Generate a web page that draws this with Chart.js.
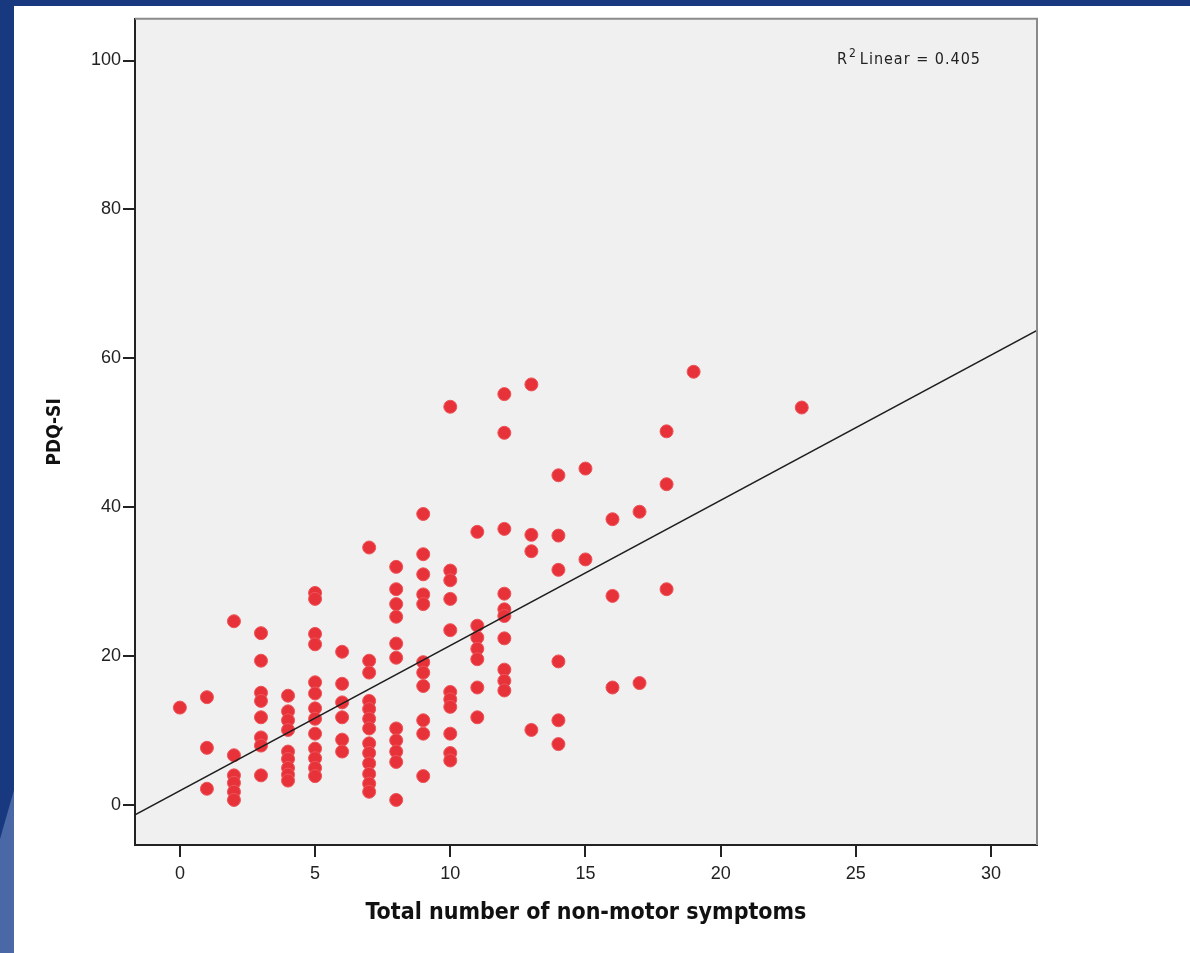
<!DOCTYPE html>
<html>
<head>
<meta charset="utf-8">
<title>PDQ-SI vs non-motor symptoms</title>
<script src="https://cdn.jsdelivr.net/npm/chart.js@4.4.0/dist/chart.umd.min.js"></script>
<style>
  html, body { margin: 0; padding: 0; }
  body { width: 1190px; height: 953px; background: #18387f; position: relative; overflow: hidden; }
  #corner { position: absolute; left: 0; top: 790px; width: 14px; height: 163px; background: #4a68a6;
            clip-path: polygon(100% 0, 100% 100%, 0 100%, 0 30%); }
  #panel { position: absolute; left: 14px; top: 6px; width: 1176px; height: 947px; background: #fff; }
  #chart { display: block; }
</style>
</head>
<body>
<div id="corner"></div>
<div id="panel"><canvas id="chart" width="1176" height="947"></canvas></div>
<script>
// ==================== DADOS ====================
// número de sintomas não motores (eixo x) e valores PDQ-SI lidos em cada coluna
const symptomCounts = [0, 1, 2, 3, 4, 5, 6, 7, 8, 9, 10, 11, 12, 13, 14, 15, 16, 17, 18, 19, 23];
const pdqByCount = [
  [13.1],
  [14.5, 7.7, 2.2],
  [24.7, 6.7, 4.0, 3.0, 1.8, 0.7],
  [23.1, 19.4, 15.1, 14.0, 11.8, 9.1, 8.0, 4.0],
  [14.7, 12.6, 11.4, 10.1, 7.2, 6.2, 5.0, 4.1, 3.3],
  [28.5, 27.7, 23.0, 21.6, 16.5, 15.0, 13.0, 11.6, 9.6, 7.6, 6.3, 5.0, 3.9],
  [20.6, 16.3, 13.8, 11.8, 8.8, 7.2],
  [34.6, 19.4, 17.8, 14.0, 12.9, 11.6, 10.3, 8.3, 7.0, 5.6, 4.2, 2.9, 1.8],
  [32.0, 29.0, 27.0, 25.3, 21.7, 19.8, 10.3, 8.7, 7.2, 5.8, 0.7],
  [39.1, 33.7, 31.0, 28.3, 27.0, 19.2, 17.8, 16.0, 11.4, 9.6, 3.9],
  [53.5, 31.5, 30.2, 27.7, 23.5, 15.2, 14.2, 13.2, 9.6, 7.0, 6.0],
  [36.7, 24.1, 22.5, 21.0, 19.6, 15.8, 11.8],
  [55.2, 50.0, 37.1, 28.4, 26.3, 25.4, 22.4, 18.2, 16.7, 15.4],
  [56.5, 36.3, 34.1, 10.1],
  [44.3, 36.2, 31.6, 19.3, 11.4, 8.2],
  [45.2, 33.0],
  [38.4, 28.1, 15.8],
  [39.4, 16.4],
  [50.2, 43.1, 29.0],
  [58.2],
  [53.4]
];

// reta de regressão linear
const fitIntercept = 1.95;
const fitSlope = 1.95;
const rSquared = '0.405';

// eixos
const xRange = [-1.66, 31.7];
const yRange = [-5.35, 105.6];
const xTicks = [0, 5, 10, 15, 20, 25, 30];
const yTicks = [0, 20, 40, 60, 80, 100];

const xTitle = 'Total number of non-motor symptoms';
const yTitle = 'PDQ-SI';

// ==================== MONTAGEM ====================
const points = [];
symptomCounts.forEach((x, i) => {
  pdqByCount[i].forEach((y) => points.push({ x: x, y: y }));
});

const fitLine = [
  { x: xRange[0], y: fitIntercept + fitSlope * xRange[0] },
  { x: xRange[1], y: fitIntercept + fitSlope * xRange[1] }
];

const condensed = '"DejaVu Sans Condensed", "DejaVu Sans", sans-serif';
const tickFont = { family: 'Liberation Sans, Arial, sans-serif', size: 18 };
const titleFont = { family: condensed, size: 23, weight: 'bold' };

// fundo cinza da área do gráfico + moldura superior/direita + texto R²
const plotFrame = {
  id: 'plotFrame',
  beforeDraw(chart) {
    const { ctx, chartArea: a } = chart;
    ctx.save();
    ctx.fillStyle = '#f0f0f0';
    ctx.fillRect(a.left, a.top, a.right - a.left, a.bottom - a.top);
    ctx.restore();
  },
  afterDraw(chart) {
    const { ctx, chartArea: a } = chart;
    ctx.save();
    ctx.strokeStyle = '#8a8a8a';
    ctx.lineWidth = 2;
    ctx.beginPath();
    ctx.moveTo(a.left, a.top);
    ctx.lineTo(a.right, a.top);
    ctx.lineTo(a.right, a.bottom);
    ctx.stroke();

    // R² Linear = 0.405
    ctx.fillStyle = '#222';
    ctx.textBaseline = 'alphabetic';
    ctx.letterSpacing = '1px';
    let x = 823, y = 58;
    ctx.font = '16px ' + condensed;
    ctx.fillText('R', x, y);
    x += ctx.measureText('R').width + 1;
    ctx.font = '12px ' + condensed;
    ctx.fillText('2', x, y - 7);
    x += ctx.measureText('2').width + 3;
    ctx.font = '16px ' + condensed;
    ctx.fillText('Linear = ' + rSquared, x, y);
    ctx.restore();
  }
};

new Chart(document.getElementById('chart'), {
  data: {
    datasets: [
      {
        type: 'line',
        data: fitLine,
        borderColor: '#1e1e1e',
        borderWidth: 1.5,
        pointRadius: 0,
        fill: false,
        order: 0
      },
      {
        type: 'scatter',
        data: points,
        backgroundColor: '#e8323a',
        borderColor: '#ee5459',
        borderWidth: 1,
        pointRadius: 6.5,
        order: 1
      }
    ]
  },
  options: {
    responsive: false,
    animation: false,
    layout: { padding: { top: 9, right: 153, left: 0, bottom: 0 } },
    plugins: { legend: { display: false }, tooltip: { enabled: false } },
    scales: {
      x: {
        type: 'linear',
        min: xRange[0],
        max: xRange[1],
        afterBuildTicks: (s) => { s.ticks = xTicks.map((v) => ({ value: v })); },
        afterFit: (s) => { s.height = 108; },
        border: { color: '#222', width: 2 },
        grid: { drawOnChartArea: false, color: '#222', lineWidth: 2, tickLength: 12 },
        ticks: { color: '#222', font: tickFont, padding: 6, maxRotation: 0 },
        title: { display: true, text: xTitle, color: '#111', font: titleFont, padding: { top: 0, bottom: 26 } }
      },
      y: {
        type: 'linear',
        min: yRange[0],
        max: yRange[1],
        afterBuildTicks: (s) => { s.ticks = yTicks.map((v) => ({ value: v })); },
        afterFit: (s) => { s.width = 121; },
        border: { color: '#222', width: 2 },
        grid: { drawOnChartArea: false, color: '#222', lineWidth: 2, tickLength: 12 },
        ticks: { color: '#222', font: tickFont, padding: 2 },
        title: { display: true, text: yTitle, color: '#111', font: { family: condensed, size: 19, weight: 'bold' }, padding: { top: 30, bottom: 0 } }
      }
    }
  },
  plugins: [plotFrame]
});
</script>
</body>
</html>
